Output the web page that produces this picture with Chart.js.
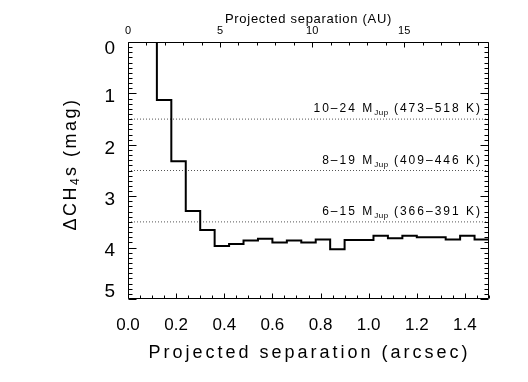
<!DOCTYPE html>
<html>
<head>
<meta charset="utf-8">
<script src="https://cdn.jsdelivr.net/npm/chart.js@4.4.0/dist/chart.umd.min.js"></script>
<style>
  html, body { margin: 0; padding: 0; background: #fff; }
</style>
</head>
<body>
<canvas id="contrastChart" width="528" height="382"></canvas>
<script>
// Contrast curve: left edge of each separation bin (arcsec) and the Delta CH4s limit (mag)
// first bin is above the top of the plot (off scale)
var binStart = [0.06, 0.12, 0.18, 0.24, 0.30, 0.36, 0.42, 0.48, 0.54, 0.60, 0.66, 0.72,
                0.78, 0.84, 0.90, 0.96, 1.02, 1.08, 1.14, 1.20, 1.26, 1.32, 1.38, 1.44];
var deltaMag = [-0.5, 1.13, 2.32, 3.29, 3.66, 3.97, 3.93, 3.86, 3.83, 3.90, 3.86, 3.90,
                3.84, 4.03, 3.85, 3.85, 3.77, 3.82, 3.77, 3.80, 3.80, 3.84, 3.77, 3.84];

// Dotted mass / temperature limits
var limitMag = [1.5, 2.5, 3.5];
var limitMass = ['10–24', '8–19', '6–15'];
var limitTemp = ['473–518', '409–446', '366–391'];

// Tick labels
var arcsecTicks = [0.0, 0.2, 0.4, 0.6, 0.8, 1.0, 1.2, 1.4];
var auTicks = [0, 5, 10, 15];
var magTicks = [0, 1, 2, 3, 4, 5];

var xMax = 1.5;
var auPerArcsec = 13.07;
var FONT = 'Liberation Sans, Arial, sans-serif';

// each bin value holds until the next bin edge
var stepData = binStart.map(function (x, i) { return { x: x, y: deltaMag[i] }; });
stepData.push({ x: xMax, y: deltaMag[deltaMag.length - 1] });

var datasets = [{
    data: stepData,
    stepped: 'before',
    borderColor: '#000',
    borderWidth: 2,
    pointRadius: 0,
    fill: false
}];
limitMag.forEach(function (m) {
    datasets.push({
        data: [{ x: 0, y: m }, { x: xMax, y: m }],
        borderColor: '#555',
        borderWidth: 1,
        borderDash: [1, 2],
        pointRadius: 0,
        fill: false
    });
});

function setTicks(list) {
    return function (scale) {
        scale.ticks = list.map(function (v) { return { value: v }; });
    };
}

// parts: [text, size, dy, letterSpacing]
function drawText(c, parts, x, y) {
    parts.forEach(function (p) {
        c.font = p[1] + 'px ' + FONT;
        c.letterSpacing = p[3];
        c.fillText(p[0], x, y + p[2]);
        x += c.measureText(p[0]).width;
    });
}
function partsWidth(c, parts) {
    var w = 0;
    parts.forEach(function (p) {
        c.font = p[1] + 'px ' + FONT;
        c.letterSpacing = p[3];
        w += c.measureText(p[0]).width;
    });
    return w;
}

var decorations = {
    id: 'decorations',
    afterDraw: function (chart) {
        var c = chart.ctx, a = chart.chartArea;
        var sx = chart.scales.x, sx2 = chart.scales.x2, sy = chart.scales.y;
        var L = Math.round(a.left) + 0.5, R = Math.round(a.right) - 0.5;
        var T = Math.round(a.top) + 0.5, B = Math.round(a.bottom) - 0.5;
        var i, p, len;
        c.save();
        c.strokeStyle = '#000';
        c.lineWidth = 1;
        c.beginPath();
        c.rect(L, T, R - L, B - T);
        // bottom ticks, every 0.05 arcsec
        for (i = 0; i <= 30; i++) {
            p = Math.round(sx.getPixelForValue(i * 0.05)) + 0.5;
            len = (i % 4 === 0) ? 5 : 3;
            c.moveTo(p, B); c.lineTo(p, B - len);
        }
        // top ticks, every 1 AU
        for (i = 0; i <= 19; i++) {
            p = Math.round(sx2.getPixelForValue(i)) + 0.5;
            len = (i % 5 === 0) ? 5 : 3;
            c.moveTo(p, T); c.lineTo(p, T + len);
        }
        // left / right ticks, every 0.1 mag
        for (i = 0; i <= 50; i++) {
            p = Math.round(sy.getPixelForValue(i / 10)) + 0.5;
            len = (i % 10 === 0) ? 8 : 4;
            c.moveTo(L, p); c.lineTo(L + len, p);
            c.moveTo(R, p); c.lineTo(R - len, p);
        }
        c.stroke();

        c.fillStyle = '#000';
        // y tick labels
        c.font = '19px ' + FONT;
        c.textAlign = 'right';
        c.textBaseline = 'middle';
        sy.ticks.forEach(function (t) {
            var py = sy.getPixelForValue(t.value) + 3.5;
            py = Math.max(a.top + 7, Math.min(a.bottom - 7, py));
            c.fillText(String(t.value), a.left - 13, py);
        });

        // limit labels
        c.textAlign = 'left';
        c.textBaseline = 'alphabetic';
        limitMag.forEach(function (m, k) {
            var parts = [[limitMass[k] + ' M', 12, 0, '2px'], ['Jup', 8, 3, '0.5px'],
                         [' (' + limitTemp[k] + ' K)', 12, 0, '2px']];
            var w = partsWidth(c, parts);
            drawText(c, parts, a.right - 7 - w, sy.getPixelForValue(m) - 7);
        });

        // axis titles
        c.textAlign = 'center';
        c.textBaseline = 'middle';
        c.font = '18px ' + FONT;
        c.letterSpacing = '3px';
        c.fillText('Projected separation (arcsec)', (a.left + a.right) / 2 + 1, 353);
        c.font = '13px ' + FONT;
        c.letterSpacing = '0.7px';
        c.fillText('Projected separation (AU)', (a.left + a.right) / 2, 19);

        c.translate(71, 164);
        c.rotate(-Math.PI / 2);
        c.textAlign = 'left';
        var yParts = [['ΔCH', 18, 0, '2.5px'], ['4', 12, 5, '2.5px'], ['s (mag)', 18, 0, '2.5px']];
        drawText(c, yParts, -partsWidth(c, yParts) / 2, 0);
        c.restore();
    }
};

var chartCtx = document.getElementById('contrastChart').getContext('2d');
var contrastChart = new Chart(chartCtx, {
    type: 'line',
    data: { datasets: datasets },
    plugins: [decorations],
    options: {
        responsive: false,
        animation: false,
        devicePixelRatio: 1,
        layout: { padding: { left: 0, right: 39, top: 0, bottom: 0 } },
        plugins: {
            legend: { display: false },
            tooltip: { enabled: false }
        },
        scales: {
            x: {
                type: 'linear',
                position: 'bottom',
                min: 0,
                max: xMax,
                afterBuildTicks: setTicks(arcsecTicks),
                afterFit: function (s) { s.height = 83; },
                ticks: {
                    callback: function (v) { return v.toFixed(1); },
                    font: { family: FONT, size: 17 },
                    color: '#000',
                    padding: 16,
                    maxRotation: 0,
                    autoSkip: false
                },
                grid: { display: false, drawTicks: false },
                border: { display: false }
            },
            x2: {
                type: 'linear',
                position: 'top',
                min: 0,
                max: xMax * auPerArcsec,
                afterBuildTicks: setTicks(auTicks),
                afterFit: function (s) { s.height = 42; },
                ticks: {
                    font: { family: FONT, size: 11 },
                    color: '#000',
                    padding: 4,
                    maxRotation: 0,
                    autoSkip: false
                },
                grid: { display: false, drawTicks: false },
                border: { display: false }
            },
            y: {
                type: 'linear',
                position: 'left',
                reverse: true,
                min: 0,
                max: 5,
                afterBuildTicks: setTicks(magTicks),
                afterFit: function (s) { s.width = 128; },
                ticks: { display: false },
                grid: { display: false, drawTicks: false },
                border: { display: false }
            }
        }
    }
});
</script>
</body>
</html>
